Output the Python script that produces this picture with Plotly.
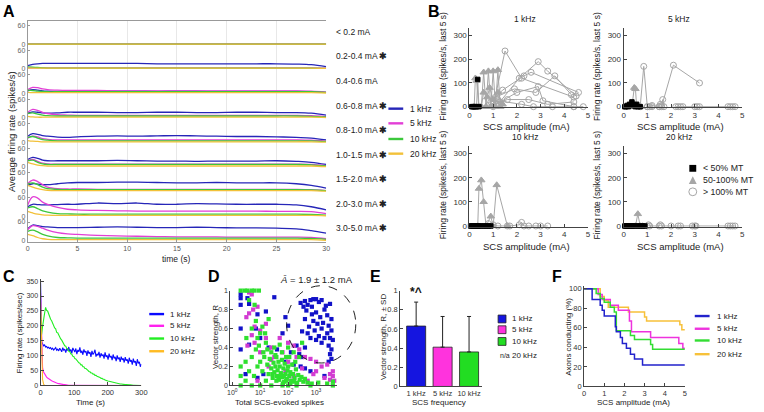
import plotly.graph_objects as go

W, H = 764, 412
FONT = "Liberation Sans, Arial, sans-serif"

# ======================= DATA =======================
# ---- Panel A: average firing rate traces (spikes/s) per amplitude bin ----
A_time = [0, 0.5, 1, 1.5, 2, 3, 4, 5, 7, 9, 11, 13, 15, 17, 19, 21, 23, 25, 27, 28.5, 30]
A_bins = ["< 0.2 mA", "0.2-0.4 mA", "0.4-0.6 mA", "0.6-0.8 mA", "0.8-1.0 mA",
          "1.0-1.5 mA", "1.5-2.0 mA", "2.0-3.0 mA", "3.0-5.0 mA"]
A_star = [False, True, False, True, True, True, True, True, True]
A_1k = [
    [0, 0, 0, 0, 0, 0, 0, 0, 0, 0, 0, 0, 0, 0, 0, 0, 0, 0, 0, 0, 0],
    [10, 14, 16, 17, 17, 17, 17, 17, 17, 17, 17, 16, 16, 16, 16, 16, 16, 16, 15, 13, 7],
    [8, 12, 10, 8, 7, 6, 6, 6, 7, 7, 7, 6, 7, 7, 6, 6, 6, 6, 6, 5, 3],
    [15, 19, 18, 16, 15, 16, 18, 18, 18, 17, 17, 18, 18, 17, 17, 18, 18, 17, 17, 15, 9],
    [20, 28, 26, 22, 20, 17, 16, 18, 20, 21, 20, 21, 22, 21, 20, 19, 19, 18, 16, 14, 8],
    [24, 31, 28, 22, 20, 20, 20, 20, 20, 21, 20, 19, 19, 18, 19, 19, 19, 20, 18, 15, 8],
    [20, 25, 24, 22, 22, 25, 28, 29, 29, 30, 30, 29, 28, 28, 29, 28, 28, 28, 25, 20, 11],
    [30, 38, 37, 36, 36, 37, 38, 38, 42, 40, 42, 38, 38, 40, 39, 38, 38, 38, 36, 30, 20],
    [38, 50, 48, 45, 44, 42, 42, 42, 43, 44, 43, 42, 42, 43, 42, 41, 41, 40, 38, 32, 24],
]
A_5k = [
    [0, 0, 0, 0, 0, 0, 0, 0, 0, 0, 0, 0, 0, 0, 0, 0, 0, 0, 0, 0, 0],
    [3, 3, 3, 3, 3, 3, 3, 3, 3, 3, 3, 3, 3, 3, 3, 3, 3, 3, 3, 3, 2],
    [12, 19, 18, 14, 12, 10, 9, 9, 9, 8, 8, 8, 8, 8, 8, 8, 8, 8, 8, 7, 4],
    [18, 27, 24, 18, 14, 10, 9, 8, 8, 8, 8, 8, 8, 8, 8, 8, 8, 8, 8, 7, 4],
    [14, 20, 18, 12, 10, 8, 8, 8, 8, 8, 8, 8, 8, 8, 8, 8, 8, 8, 8, 7, 4],
    [20, 24, 18, 12, 10, 9, 9, 9, 9, 9, 9, 9, 9, 9, 9, 9, 9, 9, 9, 8, 4],
    [26, 37, 32, 22, 14, 9, 8, 8, 7, 7, 7, 7, 7, 7, 7, 7, 7, 7, 7, 6, 3],
    [36, 62, 58, 45, 38, 28, 22, 20, 18, 17, 16, 16, 16, 16, 16, 16, 16, 15, 15, 14, 8],
    [35, 48, 46, 40, 34, 26, 22, 20, 17, 15, 14, 13, 12, 12, 12, 11, 11, 11, 11, 10, 6],
]
A_10k = [
    [0, 0, 0, 0, 0, 0, 0, 0, 0, 0, 0, 0, 0, 0, 0, 0, 0, 0, 0, 0, 0],
    [6, 5, 4, 3, 2, 2, 2, 2, 2, 2, 2, 2, 2, 2, 2, 2, 2, 2, 2, 2, 1],
    [10, 9, 7, 6, 5, 5, 5, 5, 5, 5, 5, 5, 5, 5, 5, 5, 5, 5, 5, 5, 3],
    [14, 16, 12, 9, 7, 6, 6, 6, 6, 6, 6, 6, 6, 6, 6, 6, 6, 6, 6, 5, 3],
    [15, 19, 14, 9, 7, 5, 5, 5, 5, 5, 5, 5, 5, 5, 5, 5, 5, 5, 5, 5, 3],
    [20, 22, 15, 10, 8, 8, 8, 8, 8, 8, 8, 8, 8, 8, 8, 8, 8, 8, 8, 7, 3],
    [24, 28, 22, 14, 9, 7, 6, 6, 6, 6, 6, 6, 6, 6, 6, 6, 6, 6, 6, 5, 3],
    [26, 30, 24, 17, 13, 8, 7, 6, 6, 6, 6, 6, 6, 6, 6, 6, 6, 6, 6, 5, 3],
    [30, 34, 28, 20, 15, 10, 9, 8, 8, 8, 8, 8, 8, 8, 8, 8, 8, 8, 8, 7, 4],
]
A_20k = [
    [0, 0, 0, 0, 0, 0, 0, 0, 0, 0, 0, 0, 0, 0, 0, 0, 0, 0, 0, 0, 0],
    [2, 2, 2, 2, 2, 2, 2, 2, 2, 2, 2, 2, 2, 2, 2, 2, 2, 2, 2, 2, 1],
    [3, 2, 2, 2, 2, 2, 2, 2, 2, 2, 2, 2, 2, 2, 2, 2, 2, 2, 2, 2, 1],
    [5, 3, 2, 2, 2, 2, 2, 2, 2, 2, 2, 2, 2, 2, 2, 2, 2, 2, 2, 2, 1],
    [6, 4, 3, 2, 2, 2, 2, 2, 2, 2, 2, 2, 2, 2, 2, 2, 2, 2, 2, 2, 1],
    [15, 10, 6, 4, 3, 3, 3, 3, 3, 3, 3, 3, 3, 3, 3, 3, 3, 3, 3, 3, 1],
    [20, 14, 9, 6, 4, 3, 3, 3, 3, 3, 3, 3, 3, 3, 3, 3, 3, 3, 3, 3, 1],
    [15, 10, 6, 4, 3, 2, 2, 2, 2, 2, 2, 2, 2, 2, 2, 2, 2, 2, 2, 2, 1],
    [20, 16, 10, 6, 4, 3, 3, 3, 3, 3, 3, 3, 3, 3, 3, 3, 3, 3, 3, 3, 1],
]
FREQS = ["1 kHz", "5 kHz", "10 kHz", "20 kHz"]
COL_A = ["#2626b8", "#e23fd6", "#3cc83c", "#f2c13a"]

# ---- Panel B: firing rate (last 5 s) vs SCS amplitude; (amp mA, rate, class) ----
# class: s = <50% MT, t = 50-100% MT, c = >100% MT
B_1k = [
    [(0.1, 0, 's'), (0.15, 0, 's'), (0.2, 0, 's'), (0.25, 0, 's'), (0.3, 0, 's'), (0.35, 115, 's'), (0.4, 0, 's')],
    [(0.2, 0, 't'), (0.25, 120, 't'), (0.3, 110, 't'), (0.4, 0, 't'), (0.5, 0, 't'), (0.6, 145, 't'), (0.7, 0, 't')],
    [(0.7, 0, 't'), (0.8, 150, 't'), (0.9, 0, 't'), (1.0, 150, 't'), (1.1, 0, 't'), (1.2, 155, 't'), (1.3, 0, 't')],
    [(0.5, 0, 't'), (0.6, 60, 't'), (0.75, 40, 't'), (0.85, 80, 't'), (1.0, 30, 't'), (1.2, 60, 't'), (1.4, 10, 't')],
    [(1.0, 0, 'c'), (1.5, 235, 'c'), (2.2, 120, 'c'), (4.4, 40, 'c')],
    [(1.2, 10, 'c'), (2.1, 120, 'c'), (2.9, 190, 'c'), (3.3, 150, 'c'), (4.5, 45, 'c')],
    [(0.9, 20, 'c'), (1.4, 70, 'c'), (2.3, 130, 'c'), (2.6, 145, 'c'), (4.6, 60, 'c')],
    [(1.1, 40, 'c'), (1.9, 75, 'c'), (2.8, 60, 'c'), (3.6, 130, 'c'), (4.3, 50, 'c')],
    [(1.3, 20, 'c'), (2.0, 60, 'c'), (2.9, 85, 'c'), (3.1, 25, 'c'), (4.4, 0, 'c'), (4.8, 0, 'c')],
    [(1.0, 10, 'c'), (1.6, 30, 'c'), (2.5, 30, 'c'), (3.3, 10, 'c'), (4.4, 20, 'c')],
    [(0.8, 5, 'c'), (1.2, 25, 'c'), (2.2, 10, 'c'), (2.7, 0, 'c'), (3.5, 0, 'c'), (4.4, 0, 'c')],
]
B_5k = [
    [(0.05, 0, 's'), (0.1, 0, 's'), (0.15, 5, 's'), (0.2, 0, 's'), (0.25, 10, 's'), (0.3, 5, 's'), (0.35, 20, 's'),
     (0.4, 10, 's'), (0.45, 5, 's'), (0.5, 0, 's'), (0.55, 10, 's'), (0.6, 0, 's'), (0.7, 0, 's')],
    [(0.35, 0, 't'), (0.45, 80, 't'), (0.5, 75, 't'), (0.55, 0, 't'), (0.7, 0, 't')],
    [(0.7, 0, 'c'), (0.85, 170, 'c'), (1.0, 0, 'c'), (1.1, 0, 'c'), (1.2, 0, 'c')],
    [(1.5, 0, 'c'), (1.55, 10, 'c'), (1.6, 5, 'c'), (1.65, 30, 'c'), (1.7, 0, 'c')],
    [(1.6, 0, 'c'), (2.1, 175, 'c'), (3.2, 100, 'c')],
    [(2.2, 0, 'c'), (2.3, 0, 'c'), (2.4, 0, 'c'), (2.5, 0, 'c'), (3.0, 0, 'c'), (3.1, 0, 'c'), (3.2, 0, 'c'),
     (4.4, 0, 'c'), (4.5, 0, 'c'), (4.6, 0, 'c'), (4.7, 0, 'c')],
    [(1.0, 0, 'c'), (1.2, 5, 'c'), (1.5, 0, 'c')],
]
B_10k = [
    [(0.05, 0, 's'), (0.1, 0, 's'), (0.15, 0, 's'), (0.2, 0, 's'), (0.25, 0, 's'), (0.3, 0, 's'), (0.35, 0, 's'),
     (0.4, 0, 's'), (0.5, 0, 's'), (0.6, 0, 's'), (0.7, 0, 's'), (0.8, 0, 's'), (0.9, 0, 's')],
    [(0.35, 0, 't'), (0.4, 155, 't'), (0.5, 190, 't'), (0.6, 100, 't'), (0.7, 0, 't'), (0.9, 40, 't'),
     (1.0, 0, 't'), (1.15, 170, 't'), (1.6, 0, 't')],
    [(0.8, 10, 'c'), (1.0, 5, 'c'), (1.2, 0, 'c'), (1.6, 0, 'c'), (1.7, 0, 'c'), (2.1, 5, 'c'), (2.2, 15, 'c'),
     (2.3, 0, 'c'), (2.5, 0, 'c'), (2.8, 0, 'c'), (3.0, 0, 'c'), (3.3, 0, 'c')],
]
B_20k = [
    [(0.05, 0, 's'), (0.1, 0, 's'), (0.15, 0, 's'), (0.2, 0, 's'), (0.25, 0, 's'), (0.3, 0, 's'), (0.35, 0, 's'),
     (0.4, 0, 's'), (0.5, 0, 's'), (0.6, 0, 's'), (0.7, 0, 's'), (0.8, 0, 's'), (0.9, 0, 's')],
    [(0.5, 0, 't'), (0.6, 50, 't'), (0.7, 0, 't'), (0.8, 0, 't')],
    [(1.0, 0, 'c'), (1.05, 5, 'c'), (1.1, 0, 'c'), (1.5, 0, 'c'), (1.55, 5, 'c'), (1.6, 0, 'c'), (2.0, 0, 'c'),
     (2.3, 0, 'c'), (2.4, 0, 'c'), (2.9, 0, 'c'), (3.0, 0, 'c'), (3.05, 0, 'c'), (4.4, 0, 'c'), (4.5, 0, 'c'),
     (4.6, 0, 'c'), (4.7, 0, 'c')],
]

# ---- Panel C: firing rate vs time (s), sampled every 3 s ----
C_time = list(range(0, 301, 3))
C_1k = [345, 148, 140, 133, 136, 129, 131, 126, 128, 124, 127, 121, 125, 119, 123, 127, 118, 122, 116, 125,
        120, 113, 127, 118, 122, 110, 124, 117, 129, 114, 121, 108, 126, 116, 112, 124, 105, 119, 113, 128,
        109, 117, 103, 121, 111, 115, 99, 118, 107, 112, 96, 116, 104, 109, 120, 97, 106, 101, 113, 93,
        108, 99, 104, 90, 111, 96, 101, 87, 107, 94, 99, 85, 104, 91, 96, 82, 101, 88, 94, 79,
        97, 86, 91, 77, 95, 83, 88, 73, 93, 80, 85, 70, 90, 77, 82, 66, 88, 74, 79, 63, 72]
C_5k = [310, 120, 60, 45, 38, 32, 28, 25, 22, 20, 18, 16, 14, 12, 11, 10, 8, 7, 6, 5,
        5, 4, 4, 3, 3, 2, 2, 2, 1, 1, 1, 1, 1, 0, 0, 0, 0, 0, 0, 0,
        0, 0, 0, 0, 0, 0, 0, 0, 0, 0, 0, 0, 0, 0, 0, 0, 0, 0, 0, 0,
        0, 0, 0, 0, 0, 0, 0, 0, 0, 0, 0, 0, 0, 0, 0, 0, 0, 0, 0, 0,
        0, 0, 0, 0, 0, 0, 0, 0, 0, 0, 0, 0, 0, 0, 0, 0, 0, 0, 0, 0, 0]
C_10k = [250, 170, 198, 214, 242, 262, 252, 250, 238, 234, 222, 217, 208, 202, 193, 190, 178, 177, 168, 164,
         156, 152, 144, 142, 133, 132, 124, 123, 115, 114, 106, 105, 98, 97, 90, 89, 83, 82, 76, 75,
         69, 69, 63, 63, 57, 57, 52, 51, 47, 46, 42, 42, 38, 38, 34, 34, 31, 30, 27, 27,
         24, 24, 21, 21, 18, 18, 16, 15, 14, 13, 12, 11, 10, 9, 9, 8, 7, 6, 6, 5,
         5, 4, 4, 3, 3, 3, 2, 2, 2, 2, 1, 1, 1, 1, 1, 1, 0, 0, 0, 0, 0]
C_20k = [280, 80, 20, 5, 0, 0, 0, 0, 0, 0, 0, 0, 0, 0, 0, 0, 0, 0, 0, 0,
         0, 0, 0, 0, 0, 0, 0, 0, 0, 0, 0, 0, 0, 0, 0, 0, 0, 0, 0, 0,
         0, 0, 0, 0, 0, 0, 0, 0, 0, 0, 0, 0, 0, 0, 0, 0, 0, 0, 0, 0,
         0, 0, 0, 0, 0, 0, 0, 0, 0, 0, 0, 0, 0, 0, 0, 0, 0, 0, 0, 0,
         0, 0, 0, 0, 0, 0, 0, 0, 0, 0, 0, 0, 0, 0, 0, 0, 0, 0, 0, 0, 0]
COL_C = ["#0a0aff", "#ff22ee", "#22ee22", "#ffbb22"]

# ---- Panel D: vector strength vs total SCS-evoked spikes ----
D_1k = [(280, .87), (355, .83), (400, .89), (500, .85), (630, .9), (710, .83), (800, .91), (1000, .91),
        (1260, .88), (1580, .9), (2240, .84), (3160, .86), (2000, .8), (450, .79), (710, .75), (1000, .77),
        (1410, .72), (2510, .74), (3550, .7), (400, .7), (800, .68), (1120, .65), (1780, .66), (2820, .63),
        (560, .62), (890, .58), (1580, .6), (2510, .55), (3550, .58), (316, .57), (500, .55), (1260, .52),
        (2000, .5), (3160, .5), (1000, .48), (1580, .45), (2820, .42), (3550, .38), (3160, .33), (3550, .28),
        (2820, .25), (3980, .48), (630, .5),
        (2, .96), (2, .92), (3.5, .92), (2, .85), (4, .86), (8, .75), (16, .78), (32, .93), (80, .72),
        (100, .63), (2, .6), (7, .6), (10, .5), (2, .38), (4, .43), (20, .4), (40, .38), (126, .35),
        (200, .42), (316, .3), (80, .25), (158, .22), (400, .18), (630, .15), (2000, .1), (13, .12),
        (3, .12), (8, .08), (250, .33), (400, .4), (63, .55), (280, .2)]
D_5k = [(4, .98), (5, .96), (5.6, .8), (4, .76), (3.2, .72), (8, .83), (6.3, .62), (10, .58), (5, .53),
        (16, .5), (3.5, .42), (25, .4), (50, .5), (100, .45), (158, .42), (250, .38), (10, .35), (32, .3),
        (63, .35), (400, .3), (630, .28), (1000, .25), (1580, .2), (2510, .22), (3980, .15), (316, .18),
        (20, .2), (80, .15), (158, .1), (800, .12), (2000, .08), (3160, .06), (4470, .05), (3980, .1),
        (40, .1), (8, .05), (100, .25), (200, .3), (16, .65), (6.3, .45), (1000, .15), (3160, .12),
        (500, .05), (126, .05), (25, .27)]
D_10k = [(2, 1), (2.8, 1), (3.5, 1), (5, 1), (6.3, 1), (9, 1),
         (2, 0), (5, 0), (10, 0), (25, 0), (63, 0), (100, 0), (200, 0), (630, 0), (3980, 0),
         (4, .9), (6.3, .85), (7, .68), (5, .6), (10, .55), (8, .5), (20, .7), (3.2, .5), (16, .45),
         (32, .4), (50, .43), (100, .4), (158, .35), (316, .45), (250, .3), (13, .35), (5, .3), (3, .25),
         (2, .2), (4, .15), (6, .1), (8, .2), (10, .25), (12, .15), (14, .3), (16, .05), (18, .22),
         (20, .12), (22, .28), (25, .18), (28, .08), (30, .24), (32, .14), (35, .2), (38, .3), (40, .1),
         (42, .16), (45, .25), (48, .06), (50, .2), (55, .13), (60, .27), (63, .09), (68, .18), (72, .04),
         (75, .23), (80, .12), (85, .3), (90, .07), (95, .16), (100, .2), (110, .1), (120, .14), (130, .05),
         (140, .22), (150, .12), (170, .08), (190, .17), (210, .03), (230, .11), (260, .06), (300, .09),
         (350, .04), (400, .07), (500, .03), (25, .35), (35, .32), (60, .35), (12, .62), (9, .42),
         (15, .55), (45, .08), (70, .1), (110, .3), (180, .25), (2, .1), (3, .05), (28, .12), (38, .05),
         (52, .1), (65, .02), (85, .05), (120, .02), (160, .04), (700, .02), (1200, .03), (2500, .02),
         (4000, .04), (18, .38), (7, .38)]
COL_D = ["#1212c8", "#d23cd2", "#2fe02f"]

# ---- Panel E: mean vector strength +/- SD ----
E_freqs = ["1 kHz", "5 kHz", "10 kHz"]
E_mean = [0.63, 0.41, 0.36]
E_sd = [0.25, 0.32, 0.37]
COL_E = ["#1515e0", "#ff33dd", "#22dd22"]

# ---- Panel F: % axons conducting vs SCS amplitude ----
F_1k_x = [0, 0.2, 0.4, 0.6, 0.8, 0.9, 1.0, 1.5, 1.55, 1.6, 1.8, 1.9, 2.1, 2.3, 2.5, 2.9, 5.0]
F_1k_y = [100, 100, 89, 89, 83, 78, 72, 72, 61, 56, 50, 44, 39, 33, 28, 22, 22]
F_5k_x = [0, 0.6, 0.7, 0.9, 1.3, 1.7, 2.25, 2.35, 3.3, 4.7, 4.9, 5.0]
F_5k_y = [100, 100, 94, 89, 83, 78, 67, 56, 50, 44, 39, 39]
F_10k_x = [0, 0.5, 0.6, 0.8, 1.0, 1.3, 1.5, 1.6, 2.3, 2.5, 3.3, 3.4, 5.0]
F_10k_y = [100, 100, 95, 90, 86, 81, 76, 57, 52, 48, 43, 38, 38]
F_20k_x = [0, 0.7, 0.8, 1.0, 1.2, 2.2, 3.0, 3.1, 4.75, 4.85, 5.0]
F_20k_y = [100, 100, 92, 88, 81, 76, 71, 67, 63, 58, 58]
COL_F = ["#2222cc", "#ee33dd", "#33dd33", "#f7c13a"]

# ======================= FIGURE =======================
fig = go.Figure()
layout = dict(width=W, height=H, margin=dict(l=0, r=0, t=0, b=0),
              paper_bgcolor="white", plot_bgcolor="rgba(0,0,0,0)",
              showlegend=False, font=dict(family=FONT, size=8, color="#222"))
annotations, shapes = [], []


def fx(p):
    return p / W


def fy(p):
    return 1 - p / H


def axes(n, x0, x1, ytop, ybot, xr, yr, xkw=None, ykw=None):
    sfx = "" if n == 1 else str(n)
    base = dict(showgrid=False, zeroline=False, showline=True, linecolor="#444", linewidth=1,
                ticks="inside", ticklen=3, tickcolor="#444", tickfont=dict(size=7.5, color="#333"))
    xa = dict(base, domain=[fx(x0), fx(x1)], range=xr, anchor="y" + sfx)
    ya = dict(base, domain=[fy(ybot), fy(ytop)], range=yr, anchor="x" + sfx)
    if xkw:
        xa.update(xkw)
    if ykw:
        ya.update(ykw)
    layout["xaxis" + sfx] = xa
    layout["yaxis" + sfx] = ya
    return "x" + sfx, "y" + sfx


def text(x, y, s, size=8.5, xanchor="center", yanchor="middle", angle=0, color="#222", bold=False):
    annotations.append(dict(xref="paper", yref="paper", x=fx(x), y=fy(y), text=("<b>%s</b>" % s) if bold else s,
                            showarrow=False, xanchor=xanchor, yanchor=yanchor, textangle=angle,
                            font=dict(family=FONT, size=size, color=color)))


def legline(x0, x1, y, color, width=2.2):
    shapes.append(dict(type="line", xref="paper", yref="paper", x0=fx(x0), x1=fx(x1), y0=fy(y), y1=fy(y),
                       line=dict(color=color, width=width)))


# ---------- Panel A ----------
for i in range(9):
    n = i + 1
    top = 17 + 25.1 * i
    bot = top + 25.1
    xkw = dict(showgrid=True, gridcolor="#e8e8e8", gridwidth=1, tickvals=[0, 5, 10, 15, 20, 25, 30],
               showticklabels=(i == 8), showline=(i == 8), linecolor="#999", ticks="inside" if i == 8 else "",
               tickcolor="#999", tickfont=dict(size=7, color="#555"))
    if i == 0:
        xkw.update(side="top", showline=True, ticks="", showticklabels=False)
    ykw = dict(tickvals=[0, 60], linecolor="#999", tickcolor="#999", ticklen=2,
               tickfont=dict(size=7, color="#666"))
    xa, ya = axes(n, 25, 327, top, bot, [0, 30], [-3.2, 76], xkw, ykw)
    for series, col in zip([A_1k, A_5k, A_10k, A_20k], COL_A):
        fig.add_trace(go.Scatter(x=A_time, y=series[i], mode="lines", line=dict(color=col, width=1.3,
                                 shape="spline", smoothing=1), xaxis=xa, yaxis=ya, hoverinfo="skip"))
    lab = A_bins[i] + (" <b>\u2731</b>" if A_star[i] else "")
    text(335, top + 11.5, lab, size=8.5, xanchor="left")

text(176, 261, "time (s)", size=8.5)
text(8, 130, "Average firing rate (spikes/s)", size=9.5, angle=-90)
ly = [107, 122, 138, 153]
for k in range(4):
    legline(390, 405, ly[k], COL_A[k], 2.4)
    text(410, ly[k], FREQS[k], size=8.5, xanchor="left")

# ---------- Panel B ----------
GRAY = "#a6a6a6"
B_sets = [(B_1k, 472, 592, 25, 105.7, "1 kHz"), (B_5k, 628, 748, 25, 105.7, "5 kHz"),
          (B_10k, 472, 592, 145.6, 227.7, "10 kHz"), (B_20k, 628, 748, 145.6, 227.7, "20 kHz")]
for j, (paths, x0, x1, yt, yb, ttl) in enumerate(B_sets):
    n = 10 + j
    xa, ya = axes(n, x0, x1, yt, yb, [0, 5], [-3, 330],
                  dict(tickvals=[0, 1, 2, 3, 4, 5], tickfont=dict(size=8, color="#333")),
                  dict(tickvals=[0, 100, 200, 300], tickfont=dict(size=8, color="#333")))
    for p in paths:
        fig.add_trace(go.Scatter(x=[q[0] for q in p], y=[q[1] for q in p], mode="lines",
                                 line=dict(color=GRAY, width=1), xaxis=xa, yaxis=ya, hoverinfo="skip"))
    for cat, sym, sz, col, lc in [("c", "circle-open", 6, GRAY, GRAY), ("t", "triangle-up", 6.5, GRAY, GRAY),
                                  ("s", "square", 4.5, "black", "black")]:
        xs = [q[0] for p in paths for q in p if q[2] == cat]
        ys = [q[1] for p in paths for q in p if q[2] == cat]
        fig.add_trace(go.Scatter(x=xs, y=ys, mode="markers", xaxis=xa, yaxis=ya, hoverinfo="skip",
                                 cliponaxis=False,
                                 marker=dict(symbol=sym, size=sz, color=col, line=dict(color=lc, width=1))))
    cx = (x0 + x1) / 2
    text(cx - 4, yt - 10, ttl, size=8.5)
    text(cx - 2, yb + 20, "SCS amplitude (mA)", size=9.5)
    text(x0 - 27, (yt + yb) / 2 - 2, "Firing rate (spikes/s, last 5 s)", size=8.5, angle=-90)

# B legend
shapes.append(dict(type="rect", xref="paper", yref="paper", x0=fx(694.5), x1=fx(701.5), y0=fy(171.5), y1=fy(164.5),
                   fillcolor="black", line=dict(width=0)))
shapes.append(dict(type="path", xref="paper", yref="paper",
                   path="M %f,%f L %f,%f L %f,%f Z" % (fx(694), fy(184), fx(702), fy(184), fx(698), fy(176)),
                   fillcolor=GRAY, line=dict(width=0)))
shapes.append(dict(type="circle", xref="paper", yref="paper", x0=fx(694), x1=fx(702), y0=fy(196), y1=fy(188),
                   line=dict(color=GRAY, width=1)))
text(706, 168, "< 50% MT", size=8.8, xanchor="left")
text(706, 180, "50-100% MT", size=8.8, xanchor="left")
text(706, 192, "> 100% MT", size=8.8, xanchor="left")

# ---------- Panel C ----------
xa, ya = axes(14, 38, 140, 281.5, 390, [0, 300], [0, 356],
              dict(tickvals=[0, 100, 200, 300], tickfont=dict(size=7.5, color="#333")),
              dict(tickvals=[0, 50, 100, 150, 200, 250, 300, 350], tickfont=dict(size=7, color="#333")))
for ser, col in [(C_1k, COL_C[0]), (C_5k, COL_C[1]), (C_10k, COL_C[2]), (C_20k, COL_C[3])]:
    fig.add_trace(go.Scatter(x=C_time, y=ser, mode="lines", line=dict(color=col, width=1.1),
                             xaxis=xa, yaxis=ya, hoverinfo="skip"))
text(89, 407.5, "Time (s)", size=8)
text(17, 336, "Firing rate (spikes/sec)", size=8, angle=-90)
ly = [317, 329, 342, 355]
for k in range(4):
    legline(148, 163, ly[k], COL_C[k], 2.4)
    text(167, ly[k], FREQS[k], size=8, xanchor="left")

# ---------- Panel D ----------
xa, ya = axes(15, 230, 338, 293, 390, [-0.07, 3.75], [0, 1],
              dict(type="log", tickvals=[1, 10, 100, 1000],
                   ticktext=["10<sup>0</sup>", "10<sup>1</sup>", "10<sup>2</sup>", "10<sup>3</sup>"],
                   tickfont=dict(size=7, color="#333")),
              dict(tickvals=[0, 0.2, 0.4, 0.6, 0.8, 1], ticktext=["0", "0.2", "0.4", "0.6", "0.8", "1"],
                   tickfont=dict(size=7, color="#333")))
for pts, col in [(D_1k, COL_D[0]), (D_5k, COL_D[1]), (D_10k, COL_D[2])]:
    fig.add_trace(go.Scatter(x=[p[0] for p in pts], y=[p[1] for p in pts], mode="markers",
                             marker=dict(symbol="square", size=4.2, color=col, line=dict(width=0)),
                             cliponaxis=False, xaxis=xa, yaxis=ya, hoverinfo="skip"))
shapes.append(dict(type="circle", xref="paper", yref="paper", x0=fx(287), x1=fx(357), y0=fy(367), y1=fy(288),
                   line=dict(color="#222", width=1, dash="dash")))
text(317, 282, "<i>\u0100</i> = 1.9 \u00b1 1.2 mA", size=9.5)
text(280, 407.5, "Total SCS-evoked spikes", size=8)
text(215, 340, "Vector strength, R", size=8, angle=-90)

# ---------- Panel E ----------
xa, ya = axes(16, 402, 485, 293, 391, [-0.6, 2.5], [0, 1],
              dict(type="category", tickfont=dict(size=7.5, color="#333"), ticks=""),
              dict(tickvals=[0, 0.2, 0.4, 0.6, 0.8, 1], ticktext=["0", "0.2", "0.4", "0.6", "0.8", "1"],
                   tickfont=dict(size=7.5, color="#333")))
fig.add_trace(go.Bar(x=E_freqs, y=E_mean, width=0.72, marker=dict(color=COL_E, line=dict(color="#222", width=0.8)),
                     error_y=dict(type="data", array=E_sd, arrayminus=[0, 0, 0], symmetric=False,
                                  color="#222", thickness=1, width=2),
                     xaxis=xa, yaxis=ya, hoverinfo="skip"))
annotations.append(dict(xref=xa, yref=ya, x=E_freqs[0], y=E_mean[0] + E_sd[0] + 0.01, text="<b>*^</b>",
                        showarrow=False, yanchor="bottom", font=dict(family=FONT, size=12, color="#111")))
text(441, 407.5, "SCS frequency", size=8)
text(385, 340, "Vector strength, R, \u00b1 SD", size=8, angle=-90)
ley = [322, 333, 345]
for k in range(3):
    shapes.append(dict(type="rect", xref="paper", yref="paper", x0=fx(501), x1=fx(509), y0=fy(ley[k] + 4),
                       y1=fy(ley[k] - 4), fillcolor=COL_E[k], line=dict(color="#222", width=0.8)))
    text(513, ley[k], FREQS[k], size=8, xanchor="left")
text(501, 359, "n/a", size=7, xanchor="left")
text(513, 359, FREQS[3], size=8, xanchor="left")

# ---------- Panel F ----------
xa, ya = axes(17, 588, 690, 288, 391, [0, 5], [0, 103],
              dict(tickvals=[0, 1, 2, 3, 4, 5], tickfont=dict(size=7.5, color="#333")),
              dict(tickvals=[0, 20, 40, 60, 80, 100], tickfont=dict(size=7.5, color="#333")))
for fxs, fys, col in [(F_20k_x, F_20k_y, COL_F[3]), (F_5k_x, F_5k_y, COL_F[1]),
                      (F_10k_x, F_10k_y, COL_F[2]), (F_1k_x, F_1k_y, COL_F[0])]:
    fig.add_trace(go.Scatter(x=fxs, y=fys, mode="lines", line=dict(color=col, width=1.5, shape="hv"),
                             xaxis=xa, yaxis=ya, hoverinfo="skip"))
text(638, 407.5, "SCS amplitude (mA)", size=8)
text(572, 340, "Axons conducting (%)", size=8, angle=-90)
ly = [319, 332, 344, 358]
for k in range(4):
    legline(700, 715, ly[k], COL_F[k], 2.4)
    text(720, ly[k], FREQS[k], size=8, xanchor="left")

# ---------- Panel letters ----------
for L, x, y in [("A", 6, 8), ("B", 436, 8), ("C", 6, 279), ("D", 214, 279), ("E", 377, 279), ("F", 561, 279)]:
    text(x, y, L, size=16, bold=True, color="black")

layout["annotations"] = annotations
layout["shapes"] = shapes
fig.update_layout(**layout)
fig.write_html("out.html", config={"displayModeBar": False},
               post_script="document.body.style.margin='0';document.body.style.overflow='hidden';")
